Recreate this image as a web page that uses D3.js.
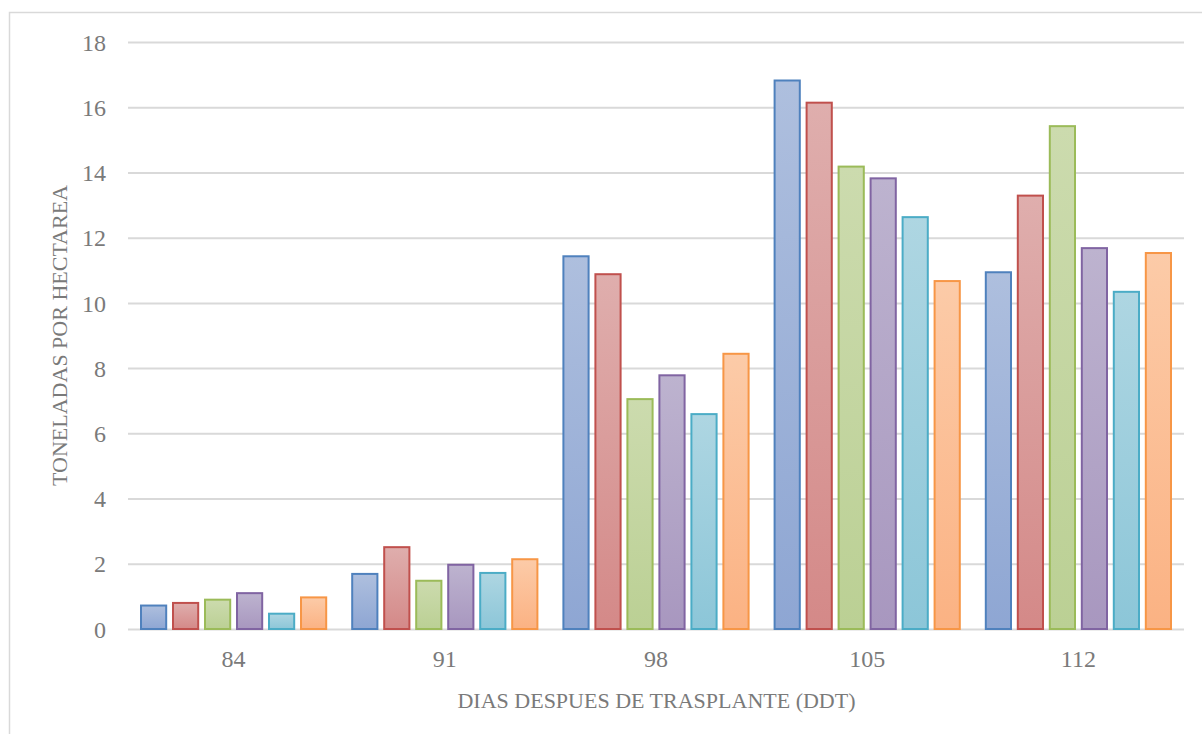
<!DOCTYPE html>
<html>
<head>
<meta charset="utf-8">
<script src="https://cdn.jsdelivr.net/npm/d3@7"></script>
<style>
  html, body { margin: 0; padding: 0; background: #fff; }
  svg { display: block; }
</style>
</head>
<body>
<svg id="chart" width="1202" height="734"></svg>
<script>
// ---- data ----
const categories = ["84", "91", "98", "105", "112"];
const seriesNames = ["Serie 1", "Serie 2", "Serie 3", "Serie 4", "Serie 5", "Serie 6"];
const serie1 = [0.75, 1.72, 11.46, 16.85, 10.97];
const serie2 = [0.83, 2.54, 10.91, 16.17, 13.32];
const serie3 = [0.93, 1.51, 7.08, 14.21, 15.45];
const serie4 = [1.13, 2.00, 7.81, 13.85, 11.71];
const serie5 = [0.50, 1.75, 6.62, 12.66, 10.37];
const serie6 = [1.00, 2.17, 8.47, 10.70, 11.56];
const yTicks = [0, 2, 4, 6, 8, 10, 12, 14, 16, 18];
const xTitle = "DIAS DESPUES DE TRASPLANTE (DDT)";
const yTitle = "TONELADAS POR HECTAREA";

const seriesValues = [serie1, serie2, serie3, serie4, serie5, serie6];
const strokes = ["#4F81BD", "#C0504D", "#9BBB59", "#8064A2", "#4BACC6", "#F79646"];
const fillTop = ["#AEBFDE", "#DFAEAD", "#CCDBAE", "#BDB3CF", "#AED6E2", "#FCCBA8"];
const fillBot = ["#8EA6D3", "#D48988", "#BBD094", "#A897BF", "#8CC6D8", "#FBB283"];

const font = "'Liberation Serif', 'Times New Roman', serif";
const textColor = "#7a7a7a";

const svg = d3.select("#chart");
svg.append("rect").attr("width", 1202).attr("height", 734).attr("fill", "#fff");
// outer chart border (extends past the window)
svg.append("rect")
  .attr("x", 9.5).attr("y", 12.5).attr("width", 1300).attr("height", 800)
  .attr("fill", "none").attr("stroke", "#d9d9d9").attr("stroke-width", 1.5);

const plotLeft = 128, plotRight = 1184, plotTop = 42, plotBottom = 629;

const x0 = d3.scaleBand().domain(categories).range([plotLeft, plotRight]).padding(0);
const x1 = d3.scaleBand().domain(seriesNames).range([12, x0.bandwidth() - 12]).paddingInner(0.15).paddingOuter(0);
const y = d3.scaleLinear().domain([0, 18]).range([plotBottom, plotTop]);

// gradients
const defs = svg.append("defs");
seriesNames.forEach((s, i) => {
  const g = defs.append("linearGradient").attr("id", "grad" + i)
    .attr("x1", 0).attr("y1", 0).attr("x2", 0).attr("y2", 1);
  g.append("stop").attr("offset", "0%").attr("stop-color", fillTop[i]);
  g.append("stop").attr("offset", "100%").attr("stop-color", fillBot[i]);
});

// y axis with gridlines
const yAxis = svg.append("g").attr("transform", `translate(${plotLeft},0)`)
  .call(d3.axisLeft(y).tickValues(yTicks).tickSize(-(plotRight - plotLeft)).tickPadding(22));
yAxis.select(".domain").remove();
yAxis.selectAll(".tick line").attr("stroke", "#d9d9d9").attr("stroke-width", 2);
yAxis.selectAll(".tick text")
  .attr("fill", textColor).attr("font-family", font).attr("font-size", 24)
  .attr("dy", "0.34em");

// bars
const groups = svg.append("g").selectAll("g")
  .data(categories).join("g")
  .attr("transform", d => `translate(${x0(d)},0)`);

groups.selectAll("rect")
  .data((d, ci) => seriesNames.map((s, si) => ({ s, si, v: seriesValues[si][ci] })))
  .join("rect")
  .attr("x", d => x1(d.s) + 1)
  .attr("width", x1.bandwidth() - 2)
  .attr("y", d => y(d.v) + 1)
  .attr("height", d => y(0) - y(d.v) - 1)
  .attr("fill", d => `url(#grad${d.si})`)
  .attr("stroke", d => strokes[d.si])
  .attr("stroke-width", 2);

// x axis labels
const xAxis = svg.append("g").attr("transform", `translate(0,${plotBottom})`)
  .call(d3.axisBottom(x0).tickSize(0).tickPadding(0));
xAxis.select(".domain").remove();
xAxis.selectAll(".tick text")
  .attr("y", 38).attr("dy", 0)
  .attr("fill", textColor).attr("font-family", font).attr("font-size", 24);

// axis titles
svg.append("text")
  .attr("x", (plotLeft + plotRight) / 2 + 0.5).attr("y", 708)
  .attr("text-anchor", "middle")
  .attr("fill", textColor).attr("font-family", font).attr("font-size", 22)
  .text(xTitle);

svg.append("text")
  .attr("transform", `translate(67,335.5) rotate(-90)`)
  .attr("text-anchor", "middle")
  .attr("fill", textColor).attr("font-family", font).attr("font-size", 22)
  .text(yTitle);
</script>
</body>
</html>
